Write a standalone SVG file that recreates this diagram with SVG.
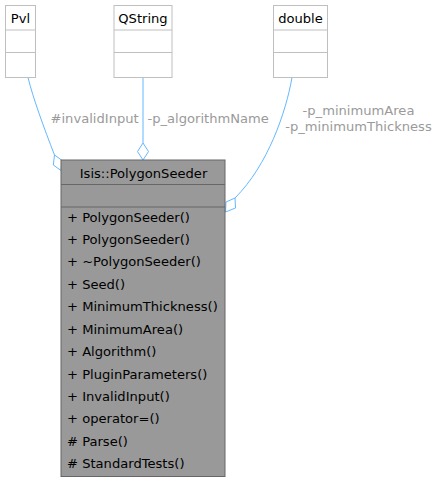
<svg xmlns="http://www.w3.org/2000/svg" width="438" height="483" viewBox="0 0 438 483">
<style>
text{font-family:"DejaVu Sans","Liberation Sans",sans-serif;font-size:13.1px;fill:#000}
.c{text-anchor:middle}
.lbl{fill:#9a9a9a}
.box{fill:#fff;stroke:#bfbfbf;stroke-width:1}
.main{fill:#999;stroke:#666;stroke-width:1}
.sep{stroke:#bfbfbf;stroke-width:1}
.msep{stroke:#666;stroke-width:1}
.edge{fill:none;stroke:#63b8ff;stroke-width:1}
.dia{fill:#fff;stroke:#63b8ff;stroke-width:1}
</style>
<rect width="438" height="483" fill="#fff"/>
<g id="connectors">
<path class="edge" d="M28,77.5 C33,98 44,128 54.5,155"/>
<polygon class="dia" points="54.5,155 61.9,160.3 61,170.5 53.3,165"/>
<text class="lbl" x="50.5" y="122.5">#invalidInput</text>
<path class="edge" d="M143,77.5 L143,143"/>
<polygon class="dia" points="143,143 148.5,151.5 143,160 137.5,151.5"/>
<text class="lbl" x="147.5" y="122.5">-p_algorithmName</text>
<path class="edge" d="M292,77.5 C286,112 268,165 235,198"/>
<polygon class="dia" points="235,198 235.5,208 225.5,212 226,202"/>
<text class="lbl c" x="358.5" y="114.5">-p_minimumArea</text>
<text class="lbl c" x="358.5" y="131">-p_minimumThickness</text>
</g>
<g id="node-Pvl">
<rect class="box" x="5.5" y="5.5" width="30" height="72"/>
<line class="sep" x1="5.5" y1="30" x2="35.5" y2="30"/>
<line class="sep" x1="5.5" y1="52.5" x2="35.5" y2="52.5"/>
<text class="c" x="20.5" y="23.3">Pvl</text>
</g>
<g id="node-QString">
<rect class="box" x="114" y="5.5" width="58" height="72"/>
<line class="sep" x1="114" y1="30" x2="172" y2="30"/>
<line class="sep" x1="114" y1="52.5" x2="172" y2="52.5"/>
<text class="c" x="143" y="23.3">QString</text>
</g>
<g id="node-double">
<rect class="box" x="273.5" y="5.5" width="54" height="72"/>
<line class="sep" x1="273.5" y1="30" x2="327.5" y2="30"/>
<line class="sep" x1="273.5" y1="52.5" x2="327.5" y2="52.5"/>
<text class="c" x="300.5" y="23.3">double</text>
</g>
<g id="node-PolygonSeeder">
<rect class="main" x="61" y="160" width="164" height="316.5"/>
<line class="msep" x1="61" y1="184.5" x2="225" y2="184.5"/>
<line class="msep" x1="61" y1="207" x2="225" y2="207"/>
<text class="c" x="143.5" y="178.3">Isis::PolygonSeeder</text>
<text x="67" y="221.5">+ PolygonSeeder()</text>
<text x="67" y="243.9">+ PolygonSeeder()</text>
<text x="67" y="266.4">+ ~PolygonSeeder()</text>
<text x="67" y="288.8">+ Seed()</text>
<text x="67" y="311.2">+ MinimumThickness()</text>
<text x="67" y="333.7">+ MinimumArea()</text>
<text x="67" y="356.1">+ Algorithm()</text>
<text x="67" y="378.5">+ PluginParameters()</text>
<text x="67" y="401">+ InvalidInput()</text>
<text x="67" y="423.4">+ operator=()</text>
<text x="67" y="445.8"># Parse()</text>
<text x="67" y="468.3"># StandardTests()</text>
</g>
</svg>
